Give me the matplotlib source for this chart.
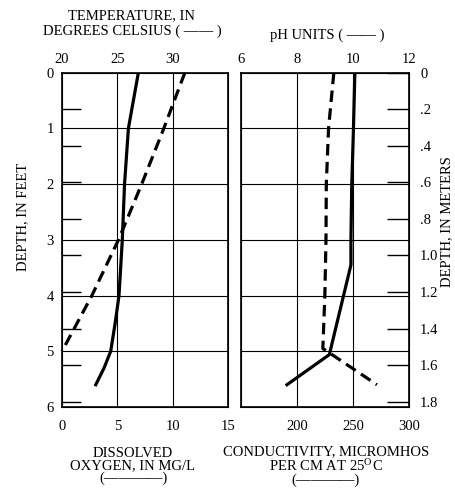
import matplotlib
matplotlib.use("Agg")
import matplotlib.pyplot as plt

plt.rcParams['font.family'] = ['Liberation Serif', 'DejaVu Serif']
plt.rcParams['font.size'] = 10.5
plt.rcParams['mathtext.fontset'] = 'stix'

# water temperature (deg C) and dissolved oxygen (mg/L) vs depth (ft)
depth_temp = [0, 1, 2, 3, 4, 4.5, 5, 5.3, 5.6]
temp = [26.9, 26.0, 25.65, 25.45, 25.15, 24.8, 24.4, 23.8, 23.05]
depth_do = [0, 1, 2, 3, 4, 5]
do = [11.1, 9.2, 7.2, 5.1, 2.7, 0.0]

# pH and specific conductance vs depth (ft)
depth_ph = [0, 1, 2, 3, 3.45, 5.06, 5.6]
ph = [10.07, 10.02, 9.96, 9.93, 9.93, 9.16, 7.65]
depth_cond = [0, 1, 2, 3, 4, 4.95, 5.6]
cond = [233, 228.3, 226.3, 226, 225, 223.2, 271.4]

ft_ticks = [0, 1, 2, 3, 4, 5, 6]
m_ticks = [0, 0.2, 0.4, 0.6, 0.8, 1.0, 1.2, 1.4, 1.6, 1.8]
m_labels = ['0', '.2', '.4', '.6', '.8', '1.0', '1.2', '1.4', '1.6', '1.8']

W, H = 456, 496
fig = plt.figure(figsize=(W / 100, H / 100), dpi=100)
top, bot = 72.7, 407
ax1 = fig.add_axes([62 / W, (H - bot) / H, 166 / W, (bot - top) / H])
ax2 = fig.add_axes([240.7 / W, (H - bot) / H, 168.3 / W, (bot - top) / H])

ft2m = (lambda f: f * 0.3048, lambda m: m / 0.3048)
lw = 2.3
dash = (3.6, 2.0)

for ax in (ax1, ax2):
    ax.set_ylim(6, 0)
    for s in ax.spines.values():
        s.set_linewidth(1.2)
    for d in [1, 2, 3, 4, 5]:
        ax.axhline(d, color='black', lw=0.8, zorder=1)

# ---- left panel
ax1.set_xlim(0, 15)
for v in [5, 10]:
    ax1.axvline(v, color='black', lw=0.8, zorder=1)
ax1.plot(do, depth_do, color='black', lw=lw, dashes=dash, clip_on=False)
ax1.set_xticks([0, 5, 10, 15])
ax1.tick_params(axis='x', length=0, pad=9)
ax1.set_yticks(ft_ticks)
ax1.tick_params(axis='y', length=0, pad=6)
t1 = ax1.twiny()
t1.set_xlim(20, 35)
t1.set_xticks([20, 25, 30, 35], ['20', '25', '30', ''])
t1.tick_params(axis='x', length=0, pad=5)
t1.plot(temp, depth_temp, color='black', lw=lw)
sec1 = ax1.secondary_yaxis('left', functions=ft2m)
sec1.set_yticks(m_ticks[1:])
sec1.tick_params(direction='in', length=14, width=1.0, labelleft=False)
sec1.spines['left'].set_visible(False)

# ---- right panel
ax2.set_xlim(150, 300)
for v in [200, 250]:
    ax2.axvline(v, color='black', lw=0.8, zorder=1)
ax2.plot(cond, depth_cond, color='black', lw=lw, dashes=dash)
ax2.set_xticks([150, 200, 250, 300], ['', '200', '250', '300'])
ax2.tick_params(axis='x', length=0, pad=9)
ax2.set_yticks(ft_ticks)
ax2.tick_params(axis='y', length=0, labelleft=False)
t2 = ax2.twiny()
t2.set_xlim(6, 12)
t2.set_xticks([6, 8, 10, 12])
t2.tick_params(axis='x', length=0, pad=5)
t2.plot(ph, depth_ph, color='black', lw=lw)
sec2 = ax2.secondary_yaxis('right', functions=ft2m)
sec2.set_yticks(m_ticks, m_labels)
sec2.tick_params(direction='in', length=16, width=1.0, pad=8)
sec2.spines['right'].set_visible(False)

# ---- titles and labels
def ftext(x, y, s, **kw):
    fig.text(x / W, 1 - y / H, s, ha='center', va='center',
             multialignment='center', **kw)

ftext(132, 23.5, 'TEMPERATURE, IN\nDEGREES CELSIUS ( —— )', linespacing=1.2)
ftext(327, 35, 'pH UNITS ( —— )')
ftext(133, 466, 'DISSOLVED\nOXYGEN, IN MG/L\n(————)', linespacing=0.95)
ftext(326, 466, 'CONDUCTIVITY, MICROMHOS\nPER CM AT 25$^{\\mathrm{O}}$C\n(————)',
      linespacing=0.95)
ftext(23, 217, 'DEPTH, IN FEET', rotation=90)
ftext(447, 222, 'DEPTH, IN METERS', rotation=90)

fig.savefig('out.png', dpi=100)
